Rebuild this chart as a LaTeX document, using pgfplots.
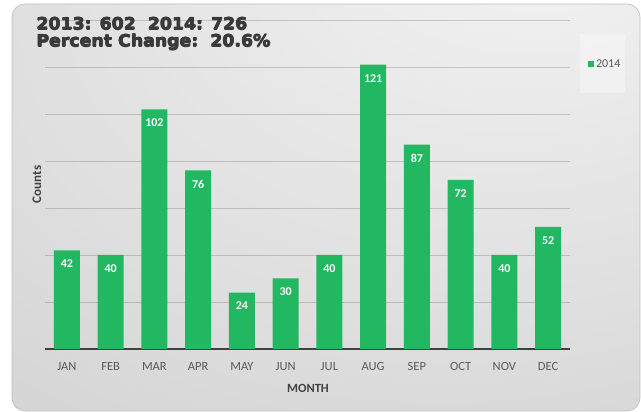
\documentclass[border=0pt]{standalone}
\usepackage{pgfplots}
\pgfplotsset{compat=1.18}
\usepackage{fontspec}
\setmainfont{Carlito}
\newfontfamily\titlefont[FakeStretch=1.05]{DejaVu Sans}

\definecolor{bargreen}{RGB}{34,184,98}
\definecolor{panelA}{RGB}{246,246,246}
\definecolor{panelB}{RGB}{224,224,224}
\definecolor{panelC}{RGB}{194,194,194}
\definecolor{tickgray}{RGB}{89,89,89}
\definecolor{labgray}{RGB}{64,64,64}
\definecolor{titlegray}{RGB}{58,58,58}

\pgfdeclareradialshading{panelshade}{\pgfpoint{20bp}{42bp}}{%
  color(0bp)=(panelA); color(35bp)=(panelB); color(80bp)=(panelC)}

\begin{document}
\begin{tikzpicture}[x=1pt,y=1pt]
% canvas and panel
\fill[white] (0pt,0pt) rectangle (641pt,412pt);
\shade[shading=panelshade, rounded corners=13pt] (12pt,1pt) rectangle (640pt,408pt);
\draw[black!25, line width=0.6pt, rounded corners=13pt] (12pt,1pt) rectangle (640pt,408pt);
% legend box
\fill[white, opacity=0.35] (580pt,319pt) rectangle (625pt,378pt);

\begin{axis}[
  at={(45pt,63pt)}, anchor=south west,
  scale only axis, width=525pt, height=329pt,
  ybar, bar width=26pt,
  xmin=-0.5, xmax=11.5, enlarge x limits=false,
  ymin=0, ymax=140,
  xtick={0,...,11},
  xticklabels={JAN,FEB,MAR,APR,MAY,JUN,JUL,AUG,SEP,OCT,NOV,DEC},
  ytick={20,40,...,140}, yticklabels={},
  major tick length=0pt,
  separate axis lines,
  axis x line*=bottom, axis y line*=left,
  y axis line style={draw=none},
  x axis line style={draw=labgray, line width=1.5pt, -},
  ymajorgrids, grid style={black, opacity=0.16, line width=0.8pt},
  xticklabel style={font=\fontsize{12.5}{13}\selectfont, text=tickgray, anchor=base, yshift=-22pt},
  xlabel={MONTH},
  xlabel style={font=\fontsize{12.5}{13}\selectfont\bfseries, text=labgray,
    at={(axis description cs:0.501,-0.1185)}, anchor=center},
  ylabel={Counts},
  ylabel style={font=\fontsize{13}{13}\selectfont\bfseries, text=labgray,
    at={(axis description cs:-0.0155,0.5)}, anchor=center},
  /pgf/number format/assume math mode=true,
  nodes near coords,
  every node near coord/.append style={font=\fontsize{12}{12}\selectfont\bfseries,
    text=white, anchor=north, yshift=-6pt},
  legend style={at={(1.034,0.866)}, anchor=west, fill=none, draw=none,
    font=\fontsize{12}{12}\selectfont, text=tickgray, inner sep=0pt},
  legend image code/.code={\fill[bargreen] (0pt,-3pt) rectangle (6pt,3pt);},
]
\addplot[fill=bargreen, draw=none] coordinates {
  (0,42) (1,40) (2,102) (3,76) (4,24) (5,30)
  (6,40) (7,121) (8,87) (9,72) (10,40) (11,52)};
\addlegendentry{2014}
\end{axis}

% title (overprinted a few times to get a heavy weight)
\begin{scope}[every node/.style={anchor=base west, inner sep=0pt, text=titlegray,
    font=\titlefont\bfseries\fontsize{16.5}{17}\selectfont}]
\foreach \dx/\dy in {0/0, 0.7/0, 0.35/0.35, 0.35/-0.35} {
  \node at (36pt+\dx pt,382pt+\dy pt) {2013: 602\ \ 2014: 726};
  \node at (36pt+\dx pt,365.3pt+\dy pt) {Percent Change:\ \ 20.6\%};
}
\end{scope}
\end{tikzpicture}
\end{document}
